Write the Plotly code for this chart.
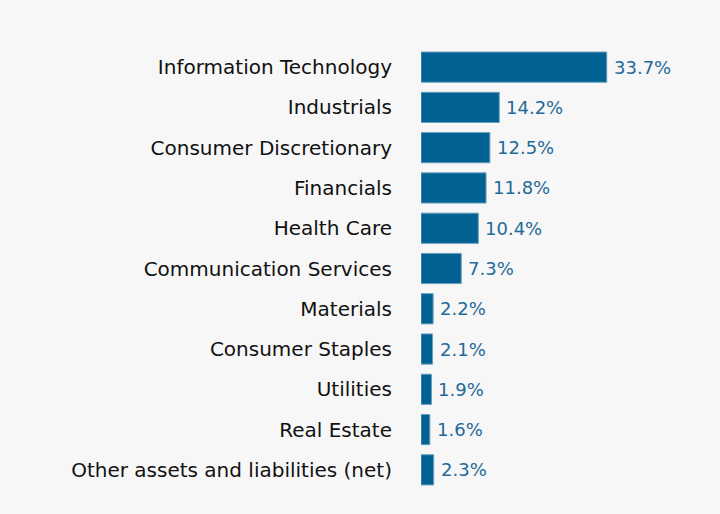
import plotly.graph_objects as go

categories = ["Information Technology", "Industrials", "Consumer Discretionary", "Financials",
              "Health Care", "Communication Services", "Materials", "Consumer Staples",
              "Utilities", "Real Estate", "Other assets and liabilities (net)"]
values = [33.7, 14.2, 12.5, 11.8, 10.4, 7.3, 2.2, 2.1, 1.9, 1.6, 2.3]
labels = [f"{v:.1f}%" for v in values]

bar_color = "#006192"
font_family = "DejaVu Sans, Liberation Sans, Arial, sans-serif"
fig = go.Figure(go.Bar(
    x=values, y=categories, orientation="h",
    marker=dict(color=bar_color, line=dict(color="#6a9fbd", width=1)),
    width=0.75, hoverinfo="skip",
))
for c, v, t in zip(categories, values, labels):
    fig.add_annotation(x=v, y=c, text=t, showarrow=False, xanchor="left", xshift=5,
                       font=dict(family=font_family, size=18, color="#1f6a99"))

fig.update_layout(
    width=720, height=514,
    paper_bgcolor="#f7f7f7", plot_bgcolor="#f7f7f7",
    margin=dict(l=421, r=51, t=47, b=24),
    showlegend=False,
    xaxis=dict(range=[0, 45], visible=False, fixedrange=True),
    yaxis=dict(autorange="reversed", showgrid=False, zeroline=False, showline=False,
               ticks="", ticklabelstandoff=28,
               tickfont=dict(family=font_family, size=20, color="#111111")),
)
fig.write_html("out.html", config={"displayModeBar": False},
               post_script="document.body.style.margin='0';document.body.style.background='#f7f7f7';")
